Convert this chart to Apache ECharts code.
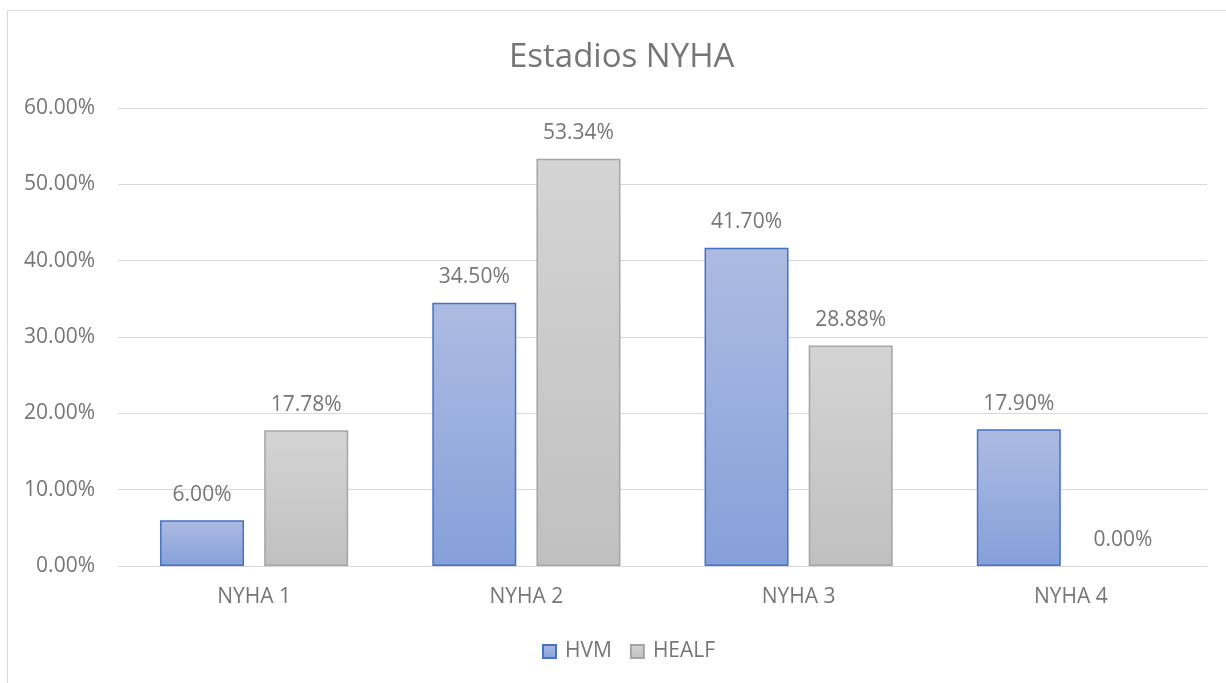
<!DOCTYPE html>
<html><head><meta charset="utf-8">
<script src="https://cdn.jsdelivr.net/npm/echarts@6/dist/echarts.min.js"></script>
<style>html,body{margin:0;padding:0;background:#fff}#c{width:1226px;height:683px}</style>
</head><body><div id="c"></div>
<script>
const categories = ['NYHA 1', 'NYHA 2', 'NYHA 3', 'NYHA 4'];
const hvm = [6.00, 34.50, 41.70, 17.90];
const healf = [17.78, 53.34, 28.88, 0.00];
const seriesNames = ['HVM', 'HEALF'];
const titleText = 'Estadios NYHA';

const font = '"Open Sans", sans-serif';
const txt = '#767676';
const chart = echarts.init(document.getElementById('c'));
const lbl = {show: true, position: 'top', distance: 15, color: txt, fontSize: 21, fontFamily: font,
  formatter: p => p.value.toFixed(2) + '%'};
const hvmGrad = new echarts.graphic.LinearGradient(0, 0, 0, 1, [{offset: 0, color: '#adbbe2'}, {offset: 1, color: '#86a0da'}]);
const healfGrad = new echarts.graphic.LinearGradient(0, 0, 0, 1, [{offset: 0, color: '#d4d4d4'}, {offset: 1, color: '#c0c0c0'}]);
const mk = (arr) => arr.map(v => v === 0 ? {value: v, itemStyle: {borderWidth: 0, borderColor: 'transparent', color: 'transparent'}} : v);
chart.setOption({
  animation: false,
  graphic: [{type: 'rect', shape: {x: 7.5, y: 10.5, width: 1240, height: 700},
    style: {fill: 'none', stroke: '#d9d9d9', lineWidth: 1}, z: -1}],
  title: {text: titleText, left: 504, top: 36,
    textStyle: {color: txt, fontSize: 33, fontWeight: 'normal', fontFamily: font}},
  legend: {data: seriesNames, bottom: 16, left: 537, itemWidth: 13, itemHeight: 13, itemGap: 18,
    icon: 'rect',
    textStyle: {color: txt, fontSize: 21, fontFamily: font, padding: [0, 0, 0, 4]}},
  grid: {left: 118, right: 19, top: 108, bottom: 117, containLabel: false},
  xAxis: {type: 'category', data: categories,
    axisLine: {lineStyle: {color: '#d9d9d9', width: 1}}, axisTick: {show: false},
    axisLabel: {color: txt, fontSize: 21, fontFamily: font, margin: 21}},
  yAxis: {type: 'value', min: 0, max: 60, interval: 10,
    axisLine: {show: false}, axisTick: {show: false},
    splitLine: {lineStyle: {color: '#d9d9d9', width: 1}},
    axisLabel: {color: txt, fontSize: 21, fontFamily: font, margin: 23, formatter: v => v.toFixed(2) + '%'}},
  series: [
    {name: seriesNames[0], type: 'bar', data: mk(hvm), barWidth: 84, barGap: '24%', label: lbl,
      itemStyle: {borderColor: '#4472c4', borderWidth: 1.5, color: hvmGrad}},
    {name: seriesNames[1], type: 'bar', data: mk(healf), barWidth: 84, label: lbl,
      itemStyle: {borderColor: '#a5a5a5', borderWidth: 1.5, color: healfGrad}}
  ]
});
</script></body></html>
